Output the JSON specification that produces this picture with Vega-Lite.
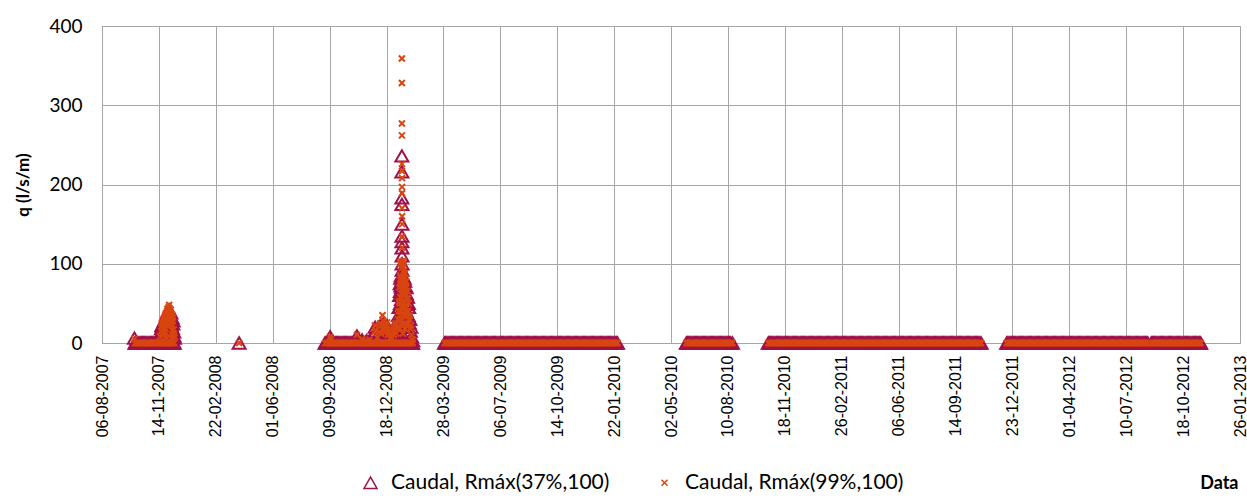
{
"$schema": "https://vega.github.io/schema/vega-lite/v6.json",
"width": 1138, "height": 317, "autosize": "none",
"padding": {"left": 102, "top": 26, "right": 7, "bottom": 157},
"background": "white",
"config": {"font": "Lato", "view": {"stroke": "#A6A6A6", "strokeWidth": 1}},
"data": {"values": [
{"d":"2007-10-02","a":6,"b":5},{"d":"2007-10-03","a":0,"b":0},{"d":"2007-10-06","a":0,"b":0},{"d":"2007-10-10","a":0,"b":0},{"d":"2007-10-14","a":0,"b":0},{"d":"2007-10-18","a":0,"b":0},{"d":"2007-10-22","a":0,"b":0},{"d":"2007-10-26","a":0,"b":0},{"d":"2007-10-30","a":0,"b":0},{"d":"2007-11-03","a":0,"b":0},{"d":"2007-11-07","a":0,"b":0},{"d":"2007-11-11","a":0,"b":0},{"d":"2007-11-15","a":0,"b":0},{"d":"2007-11-19","a":0,"b":0},{"d":"2007-11-23","a":0,"b":0},{"d":"2007-11-27","a":0,"b":0},{"d":"2007-12-01","a":0,"b":0},{"d":"2007-12-05","a":0,"b":0},{"d":"2007-12-09","a":0,"b":0},{"d":"2007-12-11","a":0,"b":0},
{"d":"2007-10-04","a":0,"b":0},{"d":"2007-10-08","a":0,"b":0},{"d":"2007-10-12","a":0,"b":0},{"d":"2007-10-16","a":0,"b":0},{"d":"2007-10-20","a":0,"b":0},{"d":"2007-10-24","a":0,"b":0},{"d":"2007-10-28","a":0,"b":0},{"d":"2007-11-01","a":0,"b":0},{"d":"2007-11-05","a":0,"b":0},{"d":"2007-11-09","a":0,"b":0},{"d":"2007-11-13","a":0,"b":0},{"d":"2007-11-17","a":0,"b":0},{"d":"2007-11-21","a":0,"b":0},{"d":"2007-11-25","a":0,"b":0},{"d":"2007-11-29","a":0,"b":0},{"d":"2007-12-03","a":0,"b":0},{"d":"2007-12-07","a":0,"b":0},
{"d":"2007-11-16","a":6,"b":8},{"d":"2007-11-18","a":12,"b":15},{"d":"2007-11-19","a":22,"b":25},{"d":"2007-11-20","a":22,"b":26},{"d":"2007-11-21","a":8,"b":10},{"d":"2007-11-22","a":25,"b":30},{"d":"2007-11-24","a":20,"b":24},{"d":"2007-11-25","a":30,"b":35},{"d":"2007-11-26","a":15,"b":18},{"d":"2007-11-27","a":33,"b":38},{"d":"2007-11-28","a":25,"b":30},{"d":"2007-11-29","a":38,"b":43},{"d":"2007-11-30","a":28,"b":33},{"d":"2007-12-01","a":40,"b":45},{"d":"2007-12-02","a":42,"b":48},{"d":"2007-12-03","a":36,"b":42},{"d":"2007-12-04","a":30,"b":35},{"d":"2007-12-05","a":38,"b":42},{"d":"2007-12-06","a":22,"b":26},{"d":"2007-12-07","a":32,"b":36},{"d":"2007-12-08","a":18,"b":22},{"d":"2007-12-09","a":28,"b":32},{"d":"2007-12-10","a":14,"b":17},{"d":"2007-12-11","a":6,"b":7},
{"d":"2007-11-18T12:00Z","a":18,"b":21},{"d":"2007-11-19T12:00Z","a":10,"b":12},{"d":"2007-11-20T12:00Z","a":16,"b":19},{"d":"2007-11-21T12:00Z","a":20,"b":24},{"d":"2007-11-22T12:00Z","a":12,"b":14},{"d":"2007-11-23","a":24,"b":28},{"d":"2007-11-23T12:00Z","a":28,"b":32},{"d":"2007-11-24T12:00Z","a":10,"b":12},{"d":"2007-11-25T12:00Z","a":22,"b":26},{"d":"2007-11-26T12:00Z","a":32,"b":37},{"d":"2007-11-27T12:00Z","a":20,"b":24},{"d":"2007-11-28T12:00Z","a":35,"b":40},{"d":"2007-11-29T12:00Z","a":18,"b":21},{"d":"2007-11-30T12:00Z","a":34,"b":39},{"d":"2007-12-01T12:00Z","a":26,"b":30},{"d":"2007-12-02T12:00Z","a":38,"b":44},{"d":"2007-12-03T12:00Z","a":20,"b":24},{"d":"2007-12-04T12:00Z","a":34,"b":38},{"d":"2007-12-05T12:00Z","a":26,"b":30},{"d":"2007-12-06T12:00Z","a":30,"b":34},{"d":"2007-12-07T12:00Z","a":14,"b":16},{"d":"2007-12-08T12:00Z","a":24,"b":28},{"d":"2007-12-09T12:00Z","a":10,"b":12},{"d":"2007-12-10T12:00Z","a":8,"b":9},{"d":"2007-11-26T06:00Z","a":6,"b":7},{"d":"2007-12-02T06:00Z","a":8,"b":9},{"d":"2007-12-06T06:00Z","a":5,"b":6},
{"d":"2008-04-03","a":0,"b":0},
{"d":"2008-09-01","a":0,"b":0},{"d":"2008-09-05","a":0,"b":0},{"d":"2008-09-09","a":0,"b":0},{"d":"2008-09-13","a":0,"b":0},{"d":"2008-09-17","a":0,"b":0},{"d":"2008-09-21","a":0,"b":0},{"d":"2008-09-25","a":0,"b":0},{"d":"2008-09-29","a":0,"b":0},{"d":"2008-10-03","a":0,"b":0},{"d":"2008-10-07","a":0,"b":0},{"d":"2008-10-11","a":0,"b":0},{"d":"2008-10-15","a":0,"b":0},{"d":"2008-10-19","a":0,"b":0},{"d":"2008-10-23","a":0,"b":0},{"d":"2008-10-27","a":0,"b":0},{"d":"2008-10-31","a":0,"b":0},{"d":"2008-11-04","a":0,"b":0},{"d":"2008-11-08","a":0,"b":0},{"d":"2008-11-12","a":0,"b":0},{"d":"2008-11-16","a":0,"b":0},{"d":"2008-11-20","a":0,"b":0},{"d":"2008-11-24","a":0,"b":0},{"d":"2008-11-28","a":0,"b":0},{"d":"2008-12-02","a":0,"b":0},{"d":"2008-12-06","a":0,"b":0},{"d":"2008-12-10","a":0,"b":0},{"d":"2008-12-14","a":0,"b":0},{"d":"2008-12-18","a":0,"b":0},{"d":"2008-12-22","a":0,"b":0},{"d":"2008-12-26","a":0,"b":0},{"d":"2008-12-30","a":0,"b":0},{"d":"2009-01-03","a":0,"b":0},{"d":"2009-01-07","a":0,"b":0},{"d":"2009-01-11","a":0,"b":0},{"d":"2009-01-15","a":0,"b":0},{"d":"2009-01-19","a":0,"b":0},{"d":"2009-01-23","a":0,"b":0},{"d":"2009-01-27","a":0,"b":0},{"d":"2009-01-31","a":0,"b":0},{"d":"2009-02-02","a":0,"b":0},
{"d":"2008-09-03","a":0,"b":0},{"d":"2008-09-07","a":0,"b":0},{"d":"2008-09-11","a":0,"b":0},{"d":"2008-09-15","a":0,"b":0},{"d":"2008-09-19","a":0,"b":0},{"d":"2008-09-23","a":0,"b":0},{"d":"2008-09-27","a":0,"b":0},{"d":"2008-10-01","a":0,"b":0},{"d":"2008-10-05","a":0,"b":0},{"d":"2008-10-09","a":0,"b":0},{"d":"2008-10-13","a":0,"b":0},{"d":"2008-10-17","a":0,"b":0},{"d":"2008-10-21","a":0,"b":0},{"d":"2008-10-25","a":0,"b":0},{"d":"2008-10-29","a":0,"b":0},{"d":"2008-11-02","a":0,"b":0},{"d":"2008-11-06","a":0,"b":0},{"d":"2008-11-10","a":0,"b":0},{"d":"2008-11-14","a":0,"b":0},{"d":"2008-11-18","a":0,"b":0},{"d":"2008-11-22","a":0,"b":0},{"d":"2008-11-26","a":0,"b":0},{"d":"2008-11-30","a":0,"b":0},{"d":"2008-12-04","a":0,"b":0},{"d":"2008-12-08","a":0,"b":0},{"d":"2008-12-12","a":0,"b":0},{"d":"2008-12-16","a":0,"b":0},{"d":"2008-12-20","a":0,"b":0},{"d":"2008-12-24","a":0,"b":0},{"d":"2008-12-28","a":0,"b":0},{"d":"2009-01-01","a":0,"b":0},{"d":"2009-01-05","a":0,"b":0},{"d":"2009-01-09","a":0,"b":0},{"d":"2009-01-13","a":0,"b":0},{"d":"2009-01-17","a":0,"b":0},{"d":"2009-01-21","a":0,"b":0},{"d":"2009-01-25","a":0,"b":0},{"d":"2009-01-29","a":0,"b":0},
{"d":"2008-09-10","a":8,"b":8},{"d":"2008-09-11","a":4,"b":5},{"d":"2008-10-27","a":9,"b":10},{"d":"2008-11-05","a":4,"b":5},{"d":"2008-11-13","a":3,"b":3},{"d":"2008-11-18","a":3,"b":4},{"d":"2008-11-27","a":12,"b":14},{"d":"2008-11-28","a":20,"b":22},{"d":"2008-11-29","a":15,"b":16},{"d":"2008-12-02","a":6,"b":7},{"d":"2008-12-05","a":12,"b":14},{"d":"2008-12-07","a":22,"b":25},{"d":"2008-12-08","a":10,"b":12},{"d":"2008-12-09","a":18,"b":22},{"d":"2008-12-11","a":20,"b":35},{"d":"2008-12-12","a":24,"b":28},{"d":"2008-12-13","a":14,"b":16},{"d":"2008-12-15","a":20,"b":24},{"d":"2008-12-16","a":12,"b":14},{"d":"2008-12-17","a":18,"b":22},{"d":"2008-12-18T12:00Z","a":15,"b":18},{"d":"2008-12-19","a":22,"b":26},{"d":"2008-12-20","a":8,"b":10},{"d":"2008-12-21","a":12,"b":14},{"d":"2008-12-22T12:00Z","a":14,"b":16},{"d":"2008-12-24","a":5,"b":6},{"d":"2008-12-25","a":4,"b":5},{"d":"2008-12-26","a":10,"b":12},{"d":"2008-12-27","a":6,"b":7},
{"d":"2008-12-28","a":10,"b":12},{"d":"2008-12-29","a":14,"b":16},{"d":"2008-12-30","a":18,"b":20},{"d":"2008-12-31","a":8,"b":10},{"d":"2009-01-01","a":12,"b":15},{"d":"2009-01-02","a":20,"b":22},{"d":"2009-01-03","a":22,"b":25},{"d":"2009-01-04","a":10,"b":12},{"d":"2009-01-05","a":15,"b":18},{"d":"2009-01-06","a":18,"b":20},{"d":"2009-01-07","a":25,"b":30},{"d":"2009-01-08","a":35,"b":40},{"d":"2009-01-09","a":45,"b":52},{"d":"2009-01-10","a":60,"b":70},{"d":"2009-01-10T12:00Z","a":30,"b":35},{"d":"2009-01-11","a":75,"b":85},{"d":"2009-01-11T12:00Z","a":50,"b":58},{"d":"2009-01-12","a":82,"b":100},{"d":"2009-01-12T12:00Z","a":62,"b":72},{"d":"2009-01-12T18:00Z","a":40,"b":45},{"d":"2009-01-13","a":85,"b":103},{"d":"2009-01-13T12:00Z","a":70,"b":80},{"d":"2009-01-13T18:00Z","a":25,"b":28},
{"d":"2009-01-10T06:00Z","a":45,"b":50},{"d":"2009-01-10T18:00Z","a":15,"b":18},{"d":"2009-01-11T06:00Z","a":65,"b":74},{"d":"2009-01-11T18:00Z","a":35,"b":40},{"d":"2009-01-12T06:00Z","a":72,"b":82},{"d":"2009-01-13T06:00Z","a":55,"b":62},{"d":"2009-01-14T18:00Z","a":60,"b":68},{"d":"2009-01-14T20:00Z","a":45,"b":52},{"d":"2009-01-15T06:00Z","a":68,"b":78},{"d":"2009-01-16T06:00Z","a":40,"b":46},{"d":"2009-01-16T18:00Z","a":74,"b":84},{"d":"2009-01-17T06:00Z","a":62,"b":70},{"d":"2009-01-18T06:00Z","a":52,"b":60},{"d":"2009-01-18T18:00Z","a":35,"b":40},{"d":"2009-01-19T06:00Z","a":65,"b":72},{"d":"2009-01-20T06:00Z","a":30,"b":35},{"d":"2009-01-20T12:00Z","a":58,"b":66},{"d":"2009-01-20T18:00Z","a":20,"b":24},{"d":"2009-01-21T06:00Z","a":40,"b":45},{"d":"2009-01-22T12:00Z","a":50,"b":56},{"d":"2009-01-23T12:00Z","a":35,"b":40},{"d":"2009-01-24T12:00Z","a":20,"b":24},{"d":"2009-01-25T12:00Z","a":50,"b":56},{"d":"2009-01-26T12:00Z","a":30,"b":34},
{"d":"2009-01-14T00:00Z","a":236,"b":359},{"d":"2009-01-14T01:00Z","a":216,"b":328},{"d":"2009-01-14T02:00Z","a":183,"b":277},{"d":"2009-01-14T03:00Z","a":175,"b":262},{"d":"2009-01-14T04:00Z","a":150,"b":226},{"d":"2009-01-14T05:00Z","a":135,"b":217},{"d":"2009-01-14T06:00Z","a":128,"b":208},{"d":"2009-01-14T07:00Z","a":120,"b":197},{"d":"2009-01-14T08:00Z","a":110,"b":189},{"d":"2009-01-14T09:00Z","a":100,"b":170},{"d":"2009-01-14T10:00Z","a":92,"b":160},{"d":"2009-01-14T11:00Z","a":86,"b":150},{"d":"2009-01-14T13:00Z","a":70,"b":134},{"d":"2009-01-14T15:00Z","a":75,"b":120},{"d":"2009-01-14T12:00Z","a":80,"b":95},{"d":"2009-01-14T14:00Z","a":20,"b":24},
{"d":"2009-01-15","a":78,"b":100},{"d":"2009-01-15T12:00Z","a":55,"b":64},{"d":"2009-01-15T18:00Z","a":10,"b":12},{"d":"2009-01-16","a":84,"b":96},{"d":"2009-01-16T12:00Z","a":66,"b":75},{"d":"2009-01-17","a":80,"b":104},{"d":"2009-01-17T12:00Z","a":45,"b":52},{"d":"2009-01-17T18:00Z","a":30,"b":34},{"d":"2009-01-18","a":82,"b":92},{"d":"2009-01-18T12:00Z","a":60,"b":70},{"d":"2009-01-19","a":78,"b":88},{"d":"2009-01-19T12:00Z","a":40,"b":46},{"d":"2009-01-19T18:00Z","a":15,"b":18},{"d":"2009-01-20","a":72,"b":82},{"d":"2009-01-21","a":55,"b":62},{"d":"2009-01-21T12:00Z","a":70,"b":78},{"d":"2009-01-22","a":62,"b":70},{"d":"2009-01-23","a":48,"b":55},{"d":"2009-01-24","a":58,"b":65},{"d":"2009-01-25","a":35,"b":40},{"d":"2009-01-26","a":45,"b":50},{"d":"2009-01-27","a":25,"b":30},{"d":"2009-01-28","a":30,"b":34},{"d":"2009-01-29","a":15,"b":18},{"d":"2009-01-30","a":20,"b":22},{"d":"2009-01-31","a":8,"b":10},{"d":"2009-02-02","a":3,"b":4},
{"d":"2009-03-30","a":0,"b":0},{"d":"2009-04-03","a":0,"b":0},{"d":"2009-04-07","a":0,"b":0},{"d":"2009-04-11","a":0,"b":0},{"d":"2009-04-15","a":0,"b":0},{"d":"2009-04-19","a":0,"b":0},{"d":"2009-04-23","a":0,"b":0},{"d":"2009-04-27","a":0,"b":0},{"d":"2009-05-01","a":0,"b":0},{"d":"2009-05-05","a":0,"b":0},{"d":"2009-05-09","a":0,"b":0},{"d":"2009-05-13","a":0,"b":0},{"d":"2009-05-17","a":0,"b":0},{"d":"2009-05-21","a":0,"b":0},{"d":"2009-05-25","a":0,"b":0},{"d":"2009-05-29","a":0,"b":0},{"d":"2009-06-02","a":0,"b":0},{"d":"2009-06-06","a":0,"b":0},{"d":"2009-06-10","a":0,"b":0},{"d":"2009-06-14","a":0,"b":0},{"d":"2009-06-18","a":0,"b":0},{"d":"2009-06-22","a":0,"b":0},{"d":"2009-06-26","a":0,"b":0},{"d":"2009-06-30","a":0,"b":0},{"d":"2009-07-04","a":0,"b":0},{"d":"2009-07-08","a":0,"b":0},{"d":"2009-07-12","a":0,"b":0},{"d":"2009-07-16","a":0,"b":0},{"d":"2009-07-20","a":0,"b":0},{"d":"2009-07-24","a":0,"b":0},{"d":"2009-07-28","a":0,"b":0},{"d":"2009-08-01","a":0,"b":0},{"d":"2009-08-05","a":0,"b":0},{"d":"2009-08-09","a":0,"b":0},{"d":"2009-08-13","a":0,"b":0},{"d":"2009-08-17","a":0,"b":0},{"d":"2009-08-21","a":0,"b":0},{"d":"2009-08-25","a":0,"b":0},{"d":"2009-08-29","a":0,"b":0},{"d":"2009-09-02","a":0,"b":0},{"d":"2009-09-06","a":0,"b":0},{"d":"2009-09-10","a":0,"b":0},{"d":"2009-09-14","a":0,"b":0},{"d":"2009-09-18","a":0,"b":0},{"d":"2009-09-22","a":0,"b":0},{"d":"2009-09-26","a":0,"b":0},{"d":"2009-09-30","a":0,"b":0},{"d":"2009-10-04","a":0,"b":0},{"d":"2009-10-08","a":0,"b":0},{"d":"2009-10-12","a":0,"b":0},{"d":"2009-10-16","a":0,"b":0},{"d":"2009-10-20","a":0,"b":0},{"d":"2009-10-24","a":0,"b":0},{"d":"2009-10-28","a":0,"b":0},{"d":"2009-11-01","a":0,"b":0},{"d":"2009-11-05","a":0,"b":0},{"d":"2009-11-09","a":0,"b":0},{"d":"2009-11-13","a":0,"b":0},{"d":"2009-11-17","a":0,"b":0},{"d":"2009-11-21","a":0,"b":0},{"d":"2009-11-25","a":0,"b":0},{"d":"2009-11-29","a":0,"b":0},{"d":"2009-12-03","a":0,"b":0},{"d":"2009-12-07","a":0,"b":0},{"d":"2009-12-11","a":0,"b":0},{"d":"2009-12-15","a":0,"b":0},{"d":"2009-12-19","a":0,"b":0},{"d":"2009-12-23","a":0,"b":0},{"d":"2009-12-27","a":0,"b":0},{"d":"2009-12-31","a":0,"b":0},{"d":"2010-01-04","a":0,"b":0},{"d":"2010-01-08","a":0,"b":0},{"d":"2010-01-12","a":0,"b":0},{"d":"2010-01-16","a":0,"b":0},{"d":"2010-01-20","a":0,"b":0},{"d":"2010-01-24","a":0,"b":0},{"d":"2010-01-28","a":0,"b":0},
{"d":"2009-04-01","a":0,"b":0},{"d":"2009-04-05","a":0,"b":0},{"d":"2009-04-09","a":0,"b":0},{"d":"2009-04-13","a":0,"b":0},{"d":"2009-04-17","a":0,"b":0},{"d":"2009-04-21","a":0,"b":0},{"d":"2009-04-25","a":0,"b":0},{"d":"2009-04-29","a":0,"b":0},{"d":"2009-05-03","a":0,"b":0},{"d":"2009-05-07","a":0,"b":0},{"d":"2009-05-11","a":0,"b":0},{"d":"2009-05-15","a":0,"b":0},{"d":"2009-05-19","a":0,"b":0},{"d":"2009-05-23","a":0,"b":0},{"d":"2009-05-27","a":0,"b":0},{"d":"2009-05-31","a":0,"b":0},{"d":"2009-06-04","a":0,"b":0},{"d":"2009-06-08","a":0,"b":0},{"d":"2009-06-12","a":0,"b":0},{"d":"2009-06-16","a":0,"b":0},{"d":"2009-06-20","a":0,"b":0},{"d":"2009-06-24","a":0,"b":0},{"d":"2009-06-28","a":0,"b":0},{"d":"2009-07-02","a":0,"b":0},{"d":"2009-07-06","a":0,"b":0},{"d":"2009-07-10","a":0,"b":0},{"d":"2009-07-14","a":0,"b":0},{"d":"2009-07-18","a":0,"b":0},{"d":"2009-07-22","a":0,"b":0},{"d":"2009-07-26","a":0,"b":0},{"d":"2009-07-30","a":0,"b":0},{"d":"2009-08-03","a":0,"b":0},{"d":"2009-08-07","a":0,"b":0},{"d":"2009-08-11","a":0,"b":0},{"d":"2009-08-15","a":0,"b":0},{"d":"2009-08-19","a":0,"b":0},{"d":"2009-08-23","a":0,"b":0},{"d":"2009-08-27","a":0,"b":0},{"d":"2009-08-31","a":0,"b":0},{"d":"2009-09-04","a":0,"b":0},{"d":"2009-09-08","a":0,"b":0},{"d":"2009-09-12","a":0,"b":0},{"d":"2009-09-16","a":0,"b":0},{"d":"2009-09-20","a":0,"b":0},{"d":"2009-09-24","a":0,"b":0},{"d":"2009-09-28","a":0,"b":0},{"d":"2009-10-02","a":0,"b":0},{"d":"2009-10-06","a":0,"b":0},{"d":"2009-10-10","a":0,"b":0},{"d":"2009-10-14","a":0,"b":0},{"d":"2009-10-18","a":0,"b":0},{"d":"2009-10-22","a":0,"b":0},{"d":"2009-10-26","a":0,"b":0},{"d":"2009-10-30","a":0,"b":0},{"d":"2009-11-03","a":0,"b":0},{"d":"2009-11-07","a":0,"b":0},{"d":"2009-11-11","a":0,"b":0},{"d":"2009-11-15","a":0,"b":0},{"d":"2009-11-19","a":0,"b":0},{"d":"2009-11-23","a":0,"b":0},{"d":"2009-11-27","a":0,"b":0},{"d":"2009-12-01","a":0,"b":0},{"d":"2009-12-05","a":0,"b":0},{"d":"2009-12-09","a":0,"b":0},{"d":"2009-12-13","a":0,"b":0},{"d":"2009-12-17","a":0,"b":0},{"d":"2009-12-21","a":0,"b":0},{"d":"2009-12-25","a":0,"b":0},{"d":"2009-12-29","a":0,"b":0},{"d":"2010-01-02","a":0,"b":0},{"d":"2010-01-06","a":0,"b":0},{"d":"2010-01-10","a":0,"b":0},{"d":"2010-01-14","a":0,"b":0},{"d":"2010-01-18","a":0,"b":0},{"d":"2010-01-22","a":0,"b":0},{"d":"2010-01-26","a":0,"b":0},
{"d":"2010-05-29","a":0,"b":0},{"d":"2010-06-02","a":0,"b":0},{"d":"2010-06-06","a":0,"b":0},{"d":"2010-06-10","a":0,"b":0},{"d":"2010-06-14","a":0,"b":0},{"d":"2010-06-18","a":0,"b":0},{"d":"2010-06-22","a":0,"b":0},{"d":"2010-06-26","a":0,"b":0},{"d":"2010-06-30","a":0,"b":0},{"d":"2010-07-04","a":0,"b":0},{"d":"2010-07-08","a":0,"b":0},{"d":"2010-07-12","a":0,"b":0},{"d":"2010-07-16","a":0,"b":0},{"d":"2010-07-20","a":0,"b":0},{"d":"2010-07-24","a":0,"b":0},{"d":"2010-07-28","a":0,"b":0},{"d":"2010-08-01","a":0,"b":0},{"d":"2010-08-05","a":0,"b":0},{"d":"2010-08-09","a":0,"b":0},{"d":"2010-08-13","a":0,"b":0},{"d":"2010-08-18","a":0,"b":0},
{"d":"2010-05-31","a":0,"b":0},{"d":"2010-06-04","a":0,"b":0},{"d":"2010-06-08","a":0,"b":0},{"d":"2010-06-12","a":0,"b":0},{"d":"2010-06-16","a":0,"b":0},{"d":"2010-06-20","a":0,"b":0},{"d":"2010-06-24","a":0,"b":0},{"d":"2010-06-28","a":0,"b":0},{"d":"2010-07-02","a":0,"b":0},{"d":"2010-07-06","a":0,"b":0},{"d":"2010-07-10","a":0,"b":0},{"d":"2010-07-14","a":0,"b":0},{"d":"2010-07-18","a":0,"b":0},{"d":"2010-07-22","a":0,"b":0},{"d":"2010-07-26","a":0,"b":0},{"d":"2010-07-30","a":0,"b":0},{"d":"2010-08-03","a":0,"b":0},{"d":"2010-08-07","a":0,"b":0},{"d":"2010-08-11","a":0,"b":0},{"d":"2010-08-15","a":0,"b":0},
{"d":"2010-10-20","a":0,"b":0},{"d":"2010-10-24","a":0,"b":0},{"d":"2010-10-28","a":0,"b":0},{"d":"2010-11-01","a":0,"b":0},{"d":"2010-11-05","a":0,"b":0},{"d":"2010-11-09","a":0,"b":0},{"d":"2010-11-13","a":0,"b":0},{"d":"2010-11-17","a":0,"b":0},{"d":"2010-11-21","a":0,"b":0},{"d":"2010-11-25","a":0,"b":0},{"d":"2010-11-29","a":0,"b":0},{"d":"2010-12-03","a":0,"b":0},{"d":"2010-12-07","a":0,"b":0},{"d":"2010-12-11","a":0,"b":0},{"d":"2010-12-15","a":0,"b":0},{"d":"2010-12-19","a":0,"b":0},{"d":"2010-12-23","a":0,"b":0},{"d":"2010-12-27","a":0,"b":0},{"d":"2010-12-31","a":0,"b":0},{"d":"2011-01-04","a":0,"b":0},{"d":"2011-01-08","a":0,"b":0},{"d":"2011-01-12","a":0,"b":0},{"d":"2011-01-16","a":0,"b":0},{"d":"2011-01-20","a":0,"b":0},{"d":"2011-01-24","a":0,"b":0},{"d":"2011-01-28","a":0,"b":0},{"d":"2011-02-01","a":0,"b":0},{"d":"2011-02-05","a":0,"b":0},{"d":"2011-02-09","a":0,"b":0},{"d":"2011-02-13","a":0,"b":0},{"d":"2011-02-17","a":0,"b":0},{"d":"2011-02-21","a":0,"b":0},{"d":"2011-02-25","a":0,"b":0},{"d":"2011-03-01","a":0,"b":0},{"d":"2011-03-05","a":0,"b":0},{"d":"2011-03-09","a":0,"b":0},{"d":"2011-03-13","a":0,"b":0},{"d":"2011-03-17","a":0,"b":0},{"d":"2011-03-21","a":0,"b":0},{"d":"2011-03-25","a":0,"b":0},{"d":"2011-03-29","a":0,"b":0},{"d":"2011-04-02","a":0,"b":0},{"d":"2011-04-06","a":0,"b":0},{"d":"2011-04-10","a":0,"b":0},{"d":"2011-04-14","a":0,"b":0},{"d":"2011-04-18","a":0,"b":0},{"d":"2011-04-22","a":0,"b":0},{"d":"2011-04-26","a":0,"b":0},{"d":"2011-04-30","a":0,"b":0},{"d":"2011-05-04","a":0,"b":0},{"d":"2011-05-08","a":0,"b":0},{"d":"2011-05-12","a":0,"b":0},{"d":"2011-05-16","a":0,"b":0},{"d":"2011-05-20","a":0,"b":0},{"d":"2011-05-24","a":0,"b":0},{"d":"2011-05-28","a":0,"b":0},{"d":"2011-06-01","a":0,"b":0},{"d":"2011-06-05","a":0,"b":0},{"d":"2011-06-09","a":0,"b":0},{"d":"2011-06-13","a":0,"b":0},{"d":"2011-06-17","a":0,"b":0},{"d":"2011-06-21","a":0,"b":0},{"d":"2011-06-25","a":0,"b":0},{"d":"2011-06-29","a":0,"b":0},{"d":"2011-07-03","a":0,"b":0},{"d":"2011-07-07","a":0,"b":0},{"d":"2011-07-11","a":0,"b":0},{"d":"2011-07-15","a":0,"b":0},{"d":"2011-07-19","a":0,"b":0},{"d":"2011-07-23","a":0,"b":0},{"d":"2011-07-27","a":0,"b":0},{"d":"2011-07-31","a":0,"b":0},{"d":"2011-08-04","a":0,"b":0},{"d":"2011-08-08","a":0,"b":0},{"d":"2011-08-12","a":0,"b":0},{"d":"2011-08-16","a":0,"b":0},{"d":"2011-08-20","a":0,"b":0},{"d":"2011-08-24","a":0,"b":0},{"d":"2011-08-28","a":0,"b":0},{"d":"2011-09-01","a":0,"b":0},{"d":"2011-09-05","a":0,"b":0},{"d":"2011-09-09","a":0,"b":0},{"d":"2011-09-13","a":0,"b":0},{"d":"2011-09-17","a":0,"b":0},{"d":"2011-09-21","a":0,"b":0},{"d":"2011-09-25","a":0,"b":0},{"d":"2011-09-29","a":0,"b":0},{"d":"2011-10-03","a":0,"b":0},{"d":"2011-10-07","a":0,"b":0},{"d":"2011-10-11","a":0,"b":0},{"d":"2011-10-15","a":0,"b":0},{"d":"2011-10-19","a":0,"b":0},{"d":"2011-10-23","a":0,"b":0},{"d":"2011-10-27","a":0,"b":0},{"d":"2011-10-29","a":0,"b":0},
{"d":"2010-10-22","a":0,"b":0},{"d":"2010-10-26","a":0,"b":0},{"d":"2010-10-30","a":0,"b":0},{"d":"2010-11-03","a":0,"b":0},{"d":"2010-11-07","a":0,"b":0},{"d":"2010-11-11","a":0,"b":0},{"d":"2010-11-15","a":0,"b":0},{"d":"2010-11-19","a":0,"b":0},{"d":"2010-11-23","a":0,"b":0},{"d":"2010-11-27","a":0,"b":0},{"d":"2010-12-01","a":0,"b":0},{"d":"2010-12-05","a":0,"b":0},{"d":"2010-12-09","a":0,"b":0},{"d":"2010-12-13","a":0,"b":0},{"d":"2010-12-17","a":0,"b":0},{"d":"2010-12-21","a":0,"b":0},{"d":"2010-12-25","a":0,"b":0},{"d":"2010-12-29","a":0,"b":0},{"d":"2011-01-02","a":0,"b":0},{"d":"2011-01-06","a":0,"b":0},{"d":"2011-01-10","a":0,"b":0},{"d":"2011-01-14","a":0,"b":0},{"d":"2011-01-18","a":0,"b":0},{"d":"2011-01-22","a":0,"b":0},{"d":"2011-01-26","a":0,"b":0},{"d":"2011-01-30","a":0,"b":0},{"d":"2011-02-03","a":0,"b":0},{"d":"2011-02-07","a":0,"b":0},{"d":"2011-02-11","a":0,"b":0},{"d":"2011-02-15","a":0,"b":0},{"d":"2011-02-19","a":0,"b":0},{"d":"2011-02-23","a":0,"b":0},{"d":"2011-02-27","a":0,"b":0},{"d":"2011-03-03","a":0,"b":0},{"d":"2011-03-07","a":0,"b":0},{"d":"2011-03-11","a":0,"b":0},{"d":"2011-03-15","a":0,"b":0},{"d":"2011-03-19","a":0,"b":0},{"d":"2011-03-23","a":0,"b":0},{"d":"2011-03-27","a":0,"b":0},{"d":"2011-03-31","a":0,"b":0},{"d":"2011-04-04","a":0,"b":0},{"d":"2011-04-08","a":0,"b":0},{"d":"2011-04-12","a":0,"b":0},{"d":"2011-04-16","a":0,"b":0},{"d":"2011-04-20","a":0,"b":0},{"d":"2011-04-24","a":0,"b":0},{"d":"2011-04-28","a":0,"b":0},{"d":"2011-05-02","a":0,"b":0},{"d":"2011-05-06","a":0,"b":0},{"d":"2011-05-10","a":0,"b":0},{"d":"2011-05-14","a":0,"b":0},{"d":"2011-05-18","a":0,"b":0},{"d":"2011-05-22","a":0,"b":0},{"d":"2011-05-26","a":0,"b":0},{"d":"2011-05-30","a":0,"b":0},{"d":"2011-06-03","a":0,"b":0},{"d":"2011-06-07","a":0,"b":0},{"d":"2011-06-11","a":0,"b":0},{"d":"2011-06-15","a":0,"b":0},{"d":"2011-06-19","a":0,"b":0},{"d":"2011-06-23","a":0,"b":0},{"d":"2011-06-27","a":0,"b":0},{"d":"2011-07-01","a":0,"b":0},{"d":"2011-07-05","a":0,"b":0},{"d":"2011-07-09","a":0,"b":0},{"d":"2011-07-13","a":0,"b":0},{"d":"2011-07-17","a":0,"b":0},{"d":"2011-07-21","a":0,"b":0},{"d":"2011-07-25","a":0,"b":0},{"d":"2011-07-29","a":0,"b":0},{"d":"2011-08-02","a":0,"b":0},{"d":"2011-08-06","a":0,"b":0},{"d":"2011-08-10","a":0,"b":0},{"d":"2011-08-14","a":0,"b":0},{"d":"2011-08-18","a":0,"b":0},{"d":"2011-08-22","a":0,"b":0},{"d":"2011-08-26","a":0,"b":0},{"d":"2011-08-30","a":0,"b":0},{"d":"2011-09-03","a":0,"b":0},{"d":"2011-09-07","a":0,"b":0},{"d":"2011-09-11","a":0,"b":0},{"d":"2011-09-15","a":0,"b":0},{"d":"2011-09-19","a":0,"b":0},{"d":"2011-09-23","a":0,"b":0},{"d":"2011-09-27","a":0,"b":0},{"d":"2011-10-01","a":0,"b":0},{"d":"2011-10-05","a":0,"b":0},{"d":"2011-10-09","a":0,"b":0},{"d":"2011-10-13","a":0,"b":0},{"d":"2011-10-17","a":0,"b":0},{"d":"2011-10-21","a":0,"b":0},{"d":"2011-10-25","a":0,"b":0},
{"d":"2011-12-13","a":0,"b":0},{"d":"2011-12-17","a":0,"b":0},{"d":"2011-12-21","a":0,"b":0},{"d":"2011-12-25","a":0,"b":0},{"d":"2011-12-29","a":0,"b":0},{"d":"2012-01-02","a":0,"b":0},{"d":"2012-01-06","a":0,"b":0},{"d":"2012-01-10","a":0,"b":0},{"d":"2012-01-14","a":0,"b":0},{"d":"2012-01-18","a":0,"b":0},{"d":"2012-01-22","a":0,"b":0},{"d":"2012-01-26","a":0,"b":0},{"d":"2012-01-30","a":0,"b":0},{"d":"2012-02-03","a":0,"b":0},{"d":"2012-02-07","a":0,"b":0},{"d":"2012-02-11","a":0,"b":0},{"d":"2012-02-15","a":0,"b":0},{"d":"2012-02-19","a":0,"b":0},{"d":"2012-02-23","a":0,"b":0},{"d":"2012-02-27","a":0,"b":0},{"d":"2012-03-02","a":0,"b":0},{"d":"2012-03-06","a":0,"b":0},{"d":"2012-03-10","a":0,"b":0},{"d":"2012-03-14","a":0,"b":0},{"d":"2012-03-18","a":0,"b":0},{"d":"2012-03-22","a":0,"b":0},{"d":"2012-03-26","a":0,"b":0},{"d":"2012-03-30","a":0,"b":0},{"d":"2012-04-03","a":0,"b":0},{"d":"2012-04-07","a":0,"b":0},{"d":"2012-04-11","a":0,"b":0},{"d":"2012-04-15","a":0,"b":0},{"d":"2012-04-19","a":0,"b":0},{"d":"2012-04-23","a":0,"b":0},{"d":"2012-04-27","a":0,"b":0},{"d":"2012-05-01","a":0,"b":0},{"d":"2012-05-05","a":0,"b":0},{"d":"2012-05-09","a":0,"b":0},{"d":"2012-05-13","a":0,"b":0},{"d":"2012-05-17","a":0,"b":0},{"d":"2012-05-21","a":0,"b":0},{"d":"2012-05-25","a":0,"b":0},{"d":"2012-05-29","a":0,"b":0},{"d":"2012-06-02","a":0,"b":0},{"d":"2012-06-06","a":0,"b":0},{"d":"2012-06-10","a":0,"b":0},{"d":"2012-06-14","a":0,"b":0},{"d":"2012-06-18","a":0,"b":0},{"d":"2012-06-22","a":0,"b":0},{"d":"2012-06-26","a":0,"b":0},{"d":"2012-06-30","a":0,"b":0},{"d":"2012-07-04","a":0,"b":0},{"d":"2012-07-08","a":0,"b":0},{"d":"2012-07-12","a":0,"b":0},{"d":"2012-07-16","a":0,"b":0},{"d":"2012-07-20","a":0,"b":0},{"d":"2012-07-24","a":0,"b":0},{"d":"2012-07-28","a":0,"b":0},{"d":"2012-08-01","a":0,"b":0},{"d":"2012-08-05","a":0,"b":0},{"d":"2012-08-09","a":0,"b":0},{"d":"2012-08-13","a":0,"b":0},{"d":"2012-08-17","a":0,"b":0},{"d":"2012-08-23","a":0,"b":0},{"d":"2012-08-27","a":0,"b":0},{"d":"2012-08-31","a":0,"b":0},{"d":"2012-09-04","a":0,"b":0},{"d":"2012-09-08","a":0,"b":0},{"d":"2012-09-12","a":0,"b":0},{"d":"2012-09-16","a":0,"b":0},{"d":"2012-09-20","a":0,"b":0},{"d":"2012-09-24","a":0,"b":0},{"d":"2012-09-28","a":0,"b":0},{"d":"2012-10-02","a":0,"b":0},{"d":"2012-10-06","a":0,"b":0},{"d":"2012-10-10","a":0,"b":0},{"d":"2012-10-14","a":0,"b":0},{"d":"2012-10-18","a":0,"b":0},{"d":"2012-10-22","a":0,"b":0},{"d":"2012-10-26","a":0,"b":0},{"d":"2012-10-30","a":0,"b":0},{"d":"2012-11-03","a":0,"b":0},{"d":"2012-11-07","a":0,"b":0},{"d":"2012-11-11","a":0,"b":0},{"d":"2012-11-15","a":0,"b":0},{"d":"2012-11-18","a":0,"b":0},
{"d":"2011-12-15","a":0,"b":0},{"d":"2011-12-19","a":0,"b":0},{"d":"2011-12-23","a":0,"b":0},{"d":"2011-12-27","a":0,"b":0},{"d":"2011-12-31","a":0,"b":0},{"d":"2012-01-04","a":0,"b":0},{"d":"2012-01-08","a":0,"b":0},{"d":"2012-01-12","a":0,"b":0},{"d":"2012-01-16","a":0,"b":0},{"d":"2012-01-20","a":0,"b":0},{"d":"2012-01-24","a":0,"b":0},{"d":"2012-01-28","a":0,"b":0},{"d":"2012-02-01","a":0,"b":0},{"d":"2012-02-05","a":0,"b":0},{"d":"2012-02-09","a":0,"b":0},{"d":"2012-02-13","a":0,"b":0},{"d":"2012-02-17","a":0,"b":0},{"d":"2012-02-21","a":0,"b":0},{"d":"2012-02-25","a":0,"b":0},{"d":"2012-02-29","a":0,"b":0},{"d":"2012-03-04","a":0,"b":0},{"d":"2012-03-08","a":0,"b":0},{"d":"2012-03-12","a":0,"b":0},{"d":"2012-03-16","a":0,"b":0},{"d":"2012-03-20","a":0,"b":0},{"d":"2012-03-24","a":0,"b":0},{"d":"2012-03-28","a":0,"b":0},{"d":"2012-04-01","a":0,"b":0},{"d":"2012-04-05","a":0,"b":0},{"d":"2012-04-09","a":0,"b":0},{"d":"2012-04-13","a":0,"b":0},{"d":"2012-04-17","a":0,"b":0},{"d":"2012-04-21","a":0,"b":0},{"d":"2012-04-25","a":0,"b":0},{"d":"2012-04-29","a":0,"b":0},{"d":"2012-05-03","a":0,"b":0},{"d":"2012-05-07","a":0,"b":0},{"d":"2012-05-11","a":0,"b":0},{"d":"2012-05-15","a":0,"b":0},{"d":"2012-05-19","a":0,"b":0},{"d":"2012-05-23","a":0,"b":0},{"d":"2012-05-27","a":0,"b":0},{"d":"2012-05-31","a":0,"b":0},{"d":"2012-06-04","a":0,"b":0},{"d":"2012-06-08","a":0,"b":0},{"d":"2012-06-12","a":0,"b":0},{"d":"2012-06-16","a":0,"b":0},{"d":"2012-06-20","a":0,"b":0},{"d":"2012-06-24","a":0,"b":0},{"d":"2012-06-28","a":0,"b":0},{"d":"2012-07-02","a":0,"b":0},{"d":"2012-07-06","a":0,"b":0},{"d":"2012-07-10","a":0,"b":0},{"d":"2012-07-14","a":0,"b":0},{"d":"2012-07-18","a":0,"b":0},{"d":"2012-07-22","a":0,"b":0},{"d":"2012-07-26","a":0,"b":0},{"d":"2012-07-30","a":0,"b":0},{"d":"2012-08-03","a":0,"b":0},{"d":"2012-08-07","a":0,"b":0},{"d":"2012-08-11","a":0,"b":0},{"d":"2012-08-15","a":0,"b":0},{"d":"2012-08-25","a":0,"b":0},{"d":"2012-08-29","a":0,"b":0},{"d":"2012-09-02","a":0,"b":0},{"d":"2012-09-06","a":0,"b":0},{"d":"2012-09-10","a":0,"b":0},{"d":"2012-09-14","a":0,"b":0},{"d":"2012-09-18","a":0,"b":0},{"d":"2012-09-22","a":0,"b":0},{"d":"2012-09-26","a":0,"b":0},{"d":"2012-09-30","a":0,"b":0},{"d":"2012-10-04","a":0,"b":0},{"d":"2012-10-08","a":0,"b":0},{"d":"2012-10-12","a":0,"b":0},{"d":"2012-10-16","a":0,"b":0},{"d":"2012-10-20","a":0,"b":0},{"d":"2012-10-24","a":0,"b":0},{"d":"2012-10-28","a":0,"b":0},{"d":"2012-11-01","a":0,"b":0},{"d":"2012-11-05","a":0,"b":0},{"d":"2012-11-09","a":0,"b":0},{"d":"2012-11-13","a":0,"b":0},{"d":"2012-11-16","a":0,"b":0}
]},
"transform": [{"fold": ["a", "b"], "as": ["s", "q"]}],
"mark": {"type": "point", "strokeWidth": 2, "opacity": 1},
"encoding": {
  "x": {"field": "d", "type": "temporal",
    "scale": {"type": "utc", "nice": false, "domain": [{"year":2007,"month":8,"date":6,"utc":true},{"year":2013,"month":1,"date":26,"utc":true}]},
    "axis": {"values": [
      {"year":2007,"month":8,"date":6,"utc":true},{"year":2007,"month":11,"date":14,"utc":true},{"year":2008,"month":2,"date":22,"utc":true},{"year":2008,"month":6,"date":1,"utc":true},{"year":2008,"month":9,"date":9,"utc":true},{"year":2008,"month":12,"date":18,"utc":true},{"year":2009,"month":3,"date":28,"utc":true},{"year":2009,"month":7,"date":6,"utc":true},{"year":2009,"month":10,"date":14,"utc":true},{"year":2010,"month":1,"date":22,"utc":true},{"year":2010,"month":5,"date":2,"utc":true},{"year":2010,"month":8,"date":10,"utc":true},{"year":2010,"month":11,"date":18,"utc":true},{"year":2011,"month":2,"date":26,"utc":true},{"year":2011,"month":6,"date":6,"utc":true},{"year":2011,"month":9,"date":14,"utc":true},{"year":2011,"month":12,"date":23,"utc":true},{"year":2012,"month":4,"date":1,"utc":true},{"year":2012,"month":7,"date":10,"utc":true},{"year":2012,"month":10,"date":18,"utc":true},{"year":2013,"month":1,"date":26,"utc":true}],
      "format": "%d-%m-%Y", "labelAngle": -90, "labelFlush": false, "labelOverlap": false,
      "labelFont": "Liberation Sans", "labelFontSize": 16, "labelColor": "#000000", "labelPadding": 12,
      "ticks": false, "grid": true, "gridColor": "#A6A6A6", "domainColor": "#A6A6A6",
      "title": "Data", "titleFont": "Lato", "titleFontSize": 18, "titleFontWeight": "bold", "titleColor": "#000000",
      "titleX": 1136, "titleY": 140, "titleAlign": "right", "titleBaseline": "middle", "titleAnchor": null}},
  "y": {"field": "q", "type": "quantitative",
    "scale": {"domain": [0, 400], "nice": false},
    "axis": {"values": [0, 100, 200, 300, 400], "labelFont": "Lato", "labelFontSize": 19, "labelColor": "#000000", "labelPadding": 20,
      "ticks": false, "grid": true, "gridColor": "#A6A6A6", "domainColor": "#A6A6A6",
      "title": "q (l/s/m)", "titleFont": "Lato", "titleFontSize": 17, "titleFontWeight": "bold", "titleColor": "#000000", "titlePadding": 16}},
  "shape": {"field": "s", "type": "nominal", "scale": {"domain": ["a", "b"], "range": ["triangle-up", "M-1,-1L1,1M-1,1L1,-1"]},
    "legend": {"orient": "none", "legendX": 258, "legendY": 446, "direction": "horizontal", "title": null, "labelFont": "Lato", "labelFontSize": 21, "labelLimit": 0, "labelColor": "#000000", "labelOffset": 10, "columnPadding": 44, "symbolStrokeWidth": 1.5,
      "labelExpr": "datum.value == 'a' ? 'Caudal, Rmáx(37%,100)' : 'Caudal, Rmáx(99%,100)'"}},
  "stroke": {"field": "s", "type": "nominal", "scale": {"domain": ["a", "b"], "range": ["#A0104A", "#D8450F"]},
    "legend": {"orient": "none", "legendX": 258, "legendY": 446, "direction": "horizontal", "title": null, "labelFont": "Lato", "labelFontSize": 21, "labelLimit": 0, "labelColor": "#000000", "labelOffset": 10, "columnPadding": 44, "symbolStrokeWidth": 1.5,
      "labelExpr": "datum.value == 'a' ? 'Caudal, Rmáx(37%,100)' : 'Caudal, Rmáx(99%,100)'"}},
  "size": {"field": "s", "type": "nominal", "scale": {"domain": ["a", "b"], "range": [169, 36]},
    "legend": {"orient": "none", "legendX": 258, "legendY": 446, "direction": "horizontal", "title": null, "labelFont": "Lato", "labelFontSize": 21, "labelLimit": 0, "labelColor": "#000000", "labelOffset": 10, "columnPadding": 44, "symbolStrokeWidth": 1.5,
      "labelExpr": "datum.value == 'a' ? 'Caudal, Rmáx(37%,100)' : 'Caudal, Rmáx(99%,100)'"}},
  "order": {"field": "s"}
}
}
